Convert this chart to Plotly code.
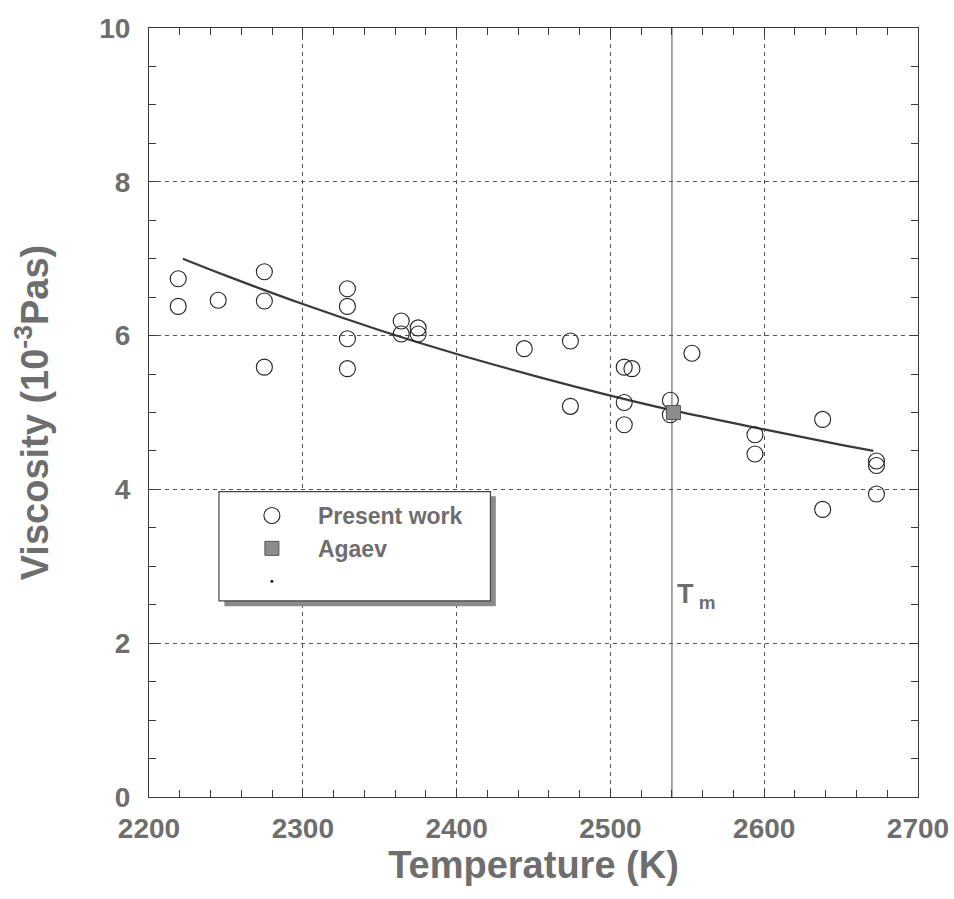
import plotly.graph_objects as go

# Measured viscosity of the melt (present work)
present_T = [2219, 2219, 2245, 2275, 2275, 2275, 2329, 2329, 2329, 2329,
             2364, 2364, 2375, 2375, 2444, 2474, 2474, 2509, 2514, 2509,
             2509, 2539, 2539, 2553, 2594, 2594, 2638, 2638, 2673, 2673, 2673]
present_V = [6.74, 6.38, 6.46, 6.83, 6.45, 5.59, 6.61, 6.38, 5.96, 5.57,
             6.19, 6.02, 6.10, 6.02, 5.83, 5.93, 5.08, 5.59, 5.57, 5.13,
             4.84, 5.16, 4.97, 5.77, 4.71, 4.46, 4.91, 3.74, 4.37, 4.31, 3.94]

# Literature value (Agaev)
agaev_T = [2541]
agaev_V = [5.00]

# Fitted curve through the measurements
fit_T = [2222, 2250, 2300, 2350, 2400, 2450, 2500, 2540, 2600, 2650, 2671]
fit_V = [7.00, 6.78, 6.41, 6.07, 5.76, 5.48, 5.22, 5.03, 4.78, 4.58, 4.50]

# Melting temperature
T_melt = 2540

x_ticks = [2200, 2300, 2400, 2500, 2600, 2700]
y_ticks = [0, 2, 4, 6, 8, 10]

INK = "#3a3a3a"
TEXT = "#6e6e6e"
FONT = "Liberation Sans, Arial, sans-serif"

fig = go.Figure()

fig.add_trace(go.Scatter(
    x=fit_T, y=fit_V, mode="lines", line=dict(color=INK, width=2.2, shape="spline"),
    showlegend=False, hoverinfo="skip"))

fig.add_trace(go.Scatter(
    x=present_T, y=present_V, mode="markers", name="Present work",
    marker=dict(symbol="circle-open", size=16, color="#222222", line=dict(width=1.1))))

fig.add_trace(go.Scatter(
    x=agaev_T, y=agaev_V, mode="markers", name="Agaev",
    marker=dict(symbol="square", size=14, color="#8c8c8c",
                line=dict(color="#555555", width=1))))

fig.add_trace(go.Scatter(
    x=[None], y=[None], mode="markers", name=" ",
    marker=dict(symbol="circle", size=3, color="#222222")))

# Melting point marker line
fig.add_vline(x=T_melt, line=dict(color="#777777", width=1.3), layer="below")
fig.add_annotation(x=T_melt, y=2.62, xref="x", yref="y", text="T<sub> m</sub>",
                   showarrow=False, xanchor="left", xshift=3,
                   font=dict(family=FONT, size=27, color=TEXT, weight="bold"))

# Legend frame with drop shadow
fig.add_shape(type="rect", xref="paper", yref="paper", layer="above",
              x0=0.098, x1=0.451, y0=0.248, y1=0.391,
              fillcolor="#8a8a8a", line=dict(width=0))
fig.add_shape(type="rect", xref="paper", yref="paper", layer="above",
              x0=0.091, x1=0.444, y0=0.255, y1=0.397,
              fillcolor="white", line=dict(color="#444444", width=1.2))

axis_common = dict(
    showline=True, linecolor=INK, linewidth=1.2, mirror="ticks",
    ticks="inside", ticklen=8, tickcolor=INK, tickwidth=1,
    showgrid=True, gridcolor="#555555", gridwidth=1, griddash="4px,4px",
    zeroline=False, automargin=False,
    tickfont=dict(family=FONT, size=28, color=TEXT, weight="bold"),
)

fig.update_xaxes(
    range=[2200, 2700], tickvals=x_ticks, ticktext=[str(v) for v in x_ticks],
    minor=dict(dtick=20, ticks="inside", ticklen=7, tickcolor=INK, showgrid=False),
    ticklabelstandoff=6,
    title=dict(text="Temperature (K)", standoff=8,
               font=dict(family=FONT, size=38, color=TEXT, weight="bold")),
    **axis_common)

fig.update_yaxes(
    range=[0, 10], tickvals=y_ticks, ticktext=[str(v) for v in y_ticks],
    minor=dict(dtick=0.5, ticks="inside", ticklen=7, tickcolor=INK, showgrid=False),
    ticklabelstandoff=12,
    title=dict(text="Viscosity (10<sup>-3</sup>Pas)", standoff=38,
               font=dict(family=FONT, size=38, color=TEXT, weight="bold")),
    **axis_common)

fig.update_layout(
    width=954, height=899,
    margin=dict(l=149, r=36, t=28, b=102),
    paper_bgcolor="white", plot_bgcolor="white",
    showlegend=True,
    legend=dict(x=0.100, y=0.394, xanchor="left", yanchor="top",
                bgcolor="rgba(0,0,0,0)", borderwidth=0, itemwidth=82,
                font=dict(family=FONT, size=23, color=TEXT, weight="bold"),
                tracegroupgap=0),
)

fig.write_html("out.html")
